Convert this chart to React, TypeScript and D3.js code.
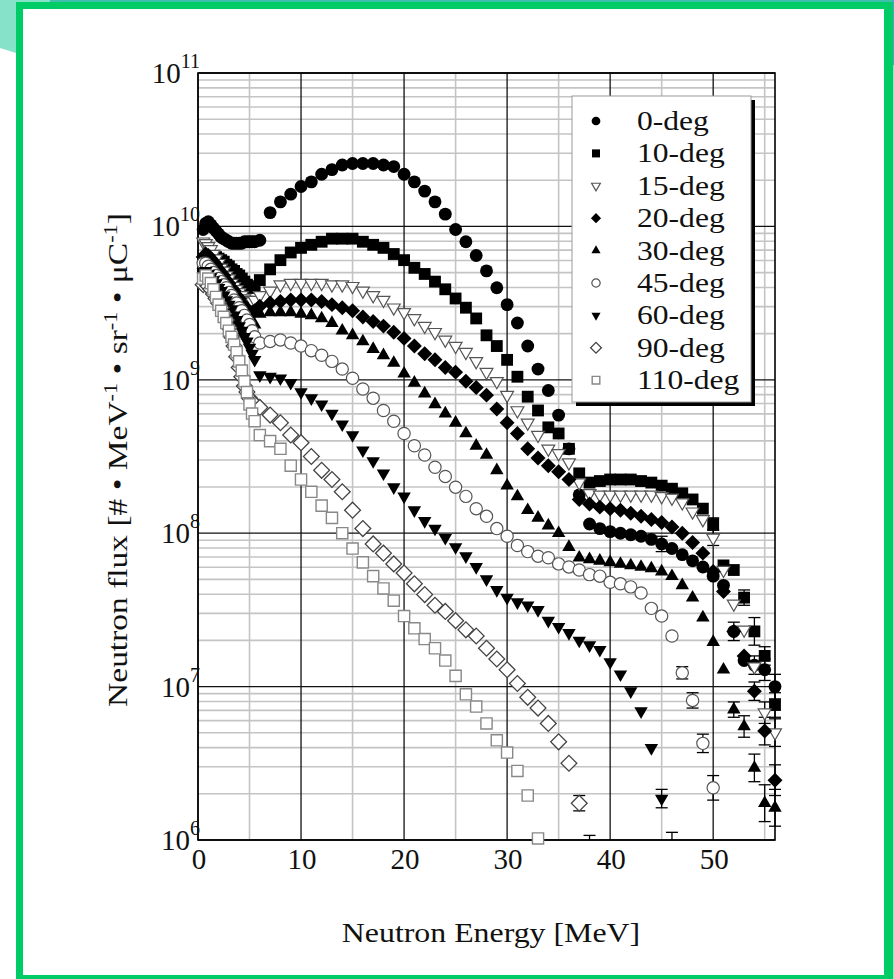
import React from 'react';
import * as d3 from 'd3';

// Energy bins [MeV] shared by every angle
const energyBins = [
  0.5, 0.75, 1, 1.25, 1.5, 1.75, 2, 2.25, 2.5, 2.75, 3, 3.25, 3.5, 3.75, 4, 4.25, 4.5, 4.75, 5, 5.25, 5.5,
  6, 7, 8, 9, 10, 11, 12, 13, 14, 15, 16, 17, 18, 19, 20, 21, 22, 23, 24, 25,
  26, 27, 28, 29, 30, 31, 32, 33, 34, 35, 36, 37, 38, 39, 40, 41, 42, 43, 44, 45,
  46, 47, 48, 49, 50, 51, 52, 53, 54, 55, 56,
];

const seriesLabels = ['0-deg', '10-deg', '15-deg', '20-deg', '30-deg', '45-deg', '60-deg', '90-deg', '110-deg'];

// log10 of neutron flux [# / MeV / sr / uC], one entry per energy bin
const logFlux0 = [
  9.98, 10.02, 10.03, 10.01, 9.99, 9.97, 9.95, 9.93, 9.92, 9.91, 9.9, 9.89, 9.89, 9.89, 9.89, 9.89, 9.9, 9.9, 9.9, 9.9, 9.9,
  9.91, 10.09, 10.16, 10.21, 10.26, 10.29, 10.34, 10.37, 10.4, 10.41,
  10.41, 10.41, 10.4, 10.39, 10.34, 10.29, 10.23, 10.16, 10.08, 9.98,
  9.9, 9.81, 9.71, 9.6, 9.49, 9.37, 9.22, 9.07, 8.93, 8.77,
  8.55, 8.25, 8.06, 8.03, 8.01, 8.0, 7.99, 7.98, 7.96, 7.93,
  7.9, 7.86, 7.82, 7.78, 7.72, 7.66, 7.36, 7.17, 7.14, 7.11, 7.0,
];
const logFlux10 = [
  9.7, 9.74, 9.77, 9.79, 9.8, 9.8, 9.79, 9.78, 9.77, 9.75, 9.74, 9.72, 9.71, 9.69, 9.68, 9.66, 9.64, 9.62, 9.6, 9.6, 9.61,
  9.65, 9.72, 9.78, 9.83, 9.86, 9.88, 9.9, 9.92, 9.92, 9.92,
  9.9, 9.88, 9.86, 9.82, 9.78, 9.73, 9.69, 9.64, 9.59, 9.53,
  9.47, 9.4, 9.29, 9.22, 9.13, 9.02, 8.89, 8.8, 8.69, 8.65,
  8.55, 8.39, 8.33, 8.34, 8.35, 8.35, 8.35, 8.34, 8.33, 8.31,
  8.29, 8.26, 8.22, 8.16, 8.06, 7.79, 7.76, 7.58, 7.36, 7.2, 6.88,
];
const logFlux15 = [
  9.9, 9.89, 9.87, 9.85, 9.82, 9.79, 9.76, 9.73, 9.71, 9.68, 9.66, 9.63, 9.61, 9.59, 9.57, 9.55, 9.53, 9.52, 9.51, 9.51, 9.52,
  9.55, 9.58, 9.62, 9.63, 9.63, 9.63, 9.63, 9.62, 9.62, 9.61,
  9.58, 9.55, 9.52, 9.47, 9.44, 9.4, 9.35, 9.31, 9.26, 9.22,
  9.18, 9.12, 9.05, 8.99, 8.9, 8.8, 8.72, 8.64, 8.55, 8.52,
  8.46, 8.33, 8.26, 8.25, 8.25, 8.25, 8.25, 8.25, 8.25, 8.24,
  8.23, 8.2, 8.14, 8.09, 7.97, 7.76, 7.54, 7.37, 7.13, 6.83, 6.7,
];
const logFlux20 = [
  9.8, 9.82, 9.81, 9.79, 9.77, 9.75, 9.72, 9.7, 9.68, 9.65, 9.63, 9.6, 9.58, 9.55, 9.53, 9.5, 9.48, 9.46, 9.44, 9.44, 9.45,
  9.48, 9.5, 9.51, 9.52, 9.52, 9.52, 9.51, 9.49, 9.47, 9.45,
  9.41, 9.38, 9.35, 9.31, 9.27, 9.22, 9.17, 9.13, 9.08, 9.05,
  8.99, 8.95, 8.9, 8.81, 8.72, 8.65, 8.55, 8.49, 8.44, 8.4,
  8.35, 8.22, 8.19, 8.17, 8.16, 8.15, 8.13, 8.11, 8.09, 8.07,
  8.04, 8.0, 7.94, 7.87, 7.75, 7.62, 7.36, 7.2, 6.97, 6.71, 6.39,
];
const logFlux30 = [
  9.72, 9.74, 9.73, 9.71, 9.69, 9.66, 9.63, 9.6, 9.58, 9.55, 9.52, 9.49, 9.46, 9.43, 9.4, 9.37, 9.34, 9.32, 9.3, 9.32, 9.36,
  9.43, 9.44, 9.44, 9.44, 9.43, 9.42, 9.4, 9.37, 9.32, 9.29,
  9.25, 9.2, 9.16, 9.11, 9.04, 8.98, 8.91, 8.84, 8.78, 8.72,
  8.65, 8.57, 8.51, 8.41, 8.31, 8.24, 8.15, 8.1, 8.05, 8.0,
  7.91, 7.84, 7.83, 7.82, 7.81, 7.8, 7.79, 7.78, 7.77, 7.75,
  7.72, 7.66, 7.58, 7.45, 7.29, 7.11, 6.85, 6.74, 6.47, 6.24, 6.21,
];
const logFlux45 = [
  9.76, 9.76, 9.74, 9.72, 9.7, 9.68, 9.66, 9.64, 9.62, 9.6, 9.57, 9.55, 9.52, 9.5, 9.47, 9.45, 9.42, 9.39, 9.36, 9.32, 9.28,
  9.24, 9.25, 9.26, 9.24, 9.22, 9.19, 9.16, 9.12, 9.07, 9.01,
  8.94, 8.88, 8.8, 8.73, 8.65, 8.57, 8.51, 8.43, 8.37, 8.3,
  8.24, 8.16, 8.11, 8.03, 7.98, 7.92, 7.88, 7.85, 7.84, 7.8,
  7.78, 7.76, 7.73, 7.72, 7.68, 7.67, 7.65, 7.61, 7.51, 7.46,
  7.33, 7.09, 6.91, 6.63, 6.34,
];
const logFlux60 = [
  9.7, 9.71, 9.69, 9.67, 9.65, 9.63, 9.6, 9.58, 9.55, 9.52, 9.49, 9.46, 9.42, 9.39, 9.35, 9.32, 9.28, 9.25, 9.21, 9.17, 9.13,
  9.03, 9.02, 9.01, 8.98, 8.92, 8.88, 8.84, 8.78, 8.71, 8.64,
  8.54, 8.47, 8.39, 8.3, 8.24, 8.15, 8.08, 8.03, 7.97, 7.91,
  7.85, 7.78, 7.7, 7.63, 7.58, 7.55, 7.53, 7.5, 7.43, 7.39,
  7.35, 7.3, 7.27, 7.24, 7.16, 7.08, 6.97, 6.84, 6.6, 6.27,
  5.85,
];
const logFlux90 = [
  9.62, 9.63, 9.61, 9.59, 9.56, 9.53, 9.5, 9.47, 9.43, 9.39, 9.34, 9.28, 9.22, 9.15, 9.08, 9.02, 8.96, 8.92, 8.88, 8.86, 8.84,
  8.82, 8.77, 8.72, 8.64, 8.59, 8.5, 8.41, 8.35, 8.27, 8.15,
  8.03, 7.93, 7.87, 7.8, 7.74, 7.67, 7.6, 7.53, 7.49, 7.43,
  7.37, 7.33, 7.25, 7.18, 7.11, 7.02, 6.93, 6.86, 6.76, 6.64,
  6.5, 6.24, 5.85,
];
const logFlux110 = [
  9.66, 9.68, 9.66, 9.63, 9.59, 9.54, 9.49, 9.45, 9.41, 9.37, 9.32, 9.28, 9.23, 9.18, 9.12, 9.06, 8.99, 8.92, 8.84, 8.78, 8.73,
  8.64, 8.6, 8.55, 8.44, 8.35, 8.27, 8.18, 8.1, 8.0, 7.9,
  7.81, 7.72, 7.64, 7.56, 7.46, 7.38, 7.31, 7.25, 7.17, 7.07,
  6.95, 6.87, 6.76, 6.65, 6.57, 6.45, 6.29, 6.01,
];

const seriesValues = [logFlux0, logFlux10, logFlux15, logFlux20, logFlux30, logFlux45, logFlux60, logFlux90, logFlux110];

// Statistical error bars: [series index, energy bin, half-width in decades]
const errorBars: [number, number, number][] = [
  [0, 45, 0.05], [0, 52, 0.06], [0, 54, 0.06], [0, 55, 0.07], [0, 56, 0.08],
  [1, 50, 0.04], [1, 53, 0.05], [1, 54, 0.09], [1, 55, 0.06], [1, 56, 0.08],
  [2, 50, 0.05], [2, 55, 0.07], [2, 56, 0.09],
  [3, 54, 0.06], [3, 55, 0.09], [3, 56, 0.1],
  [4, 52, 0.05], [4, 53, 0.07], [4, 54, 0.09], [4, 55, 0.12], [4, 56, 0.12],
  [5, 47, 0.04], [5, 48, 0.05], [5, 49, 0.06], [5, 50, 0.08],
  [6, 45, 0.06], [6, 46, 0.2],
  [7, 37, 0.05], [7, 38, 0.18],
];

const xTicks = [0, 10, 20, 30, 40, 50];
const xMinorGrid = [5, 15, 25, 35, 45, 55];
const yDecades = [6, 7, 8, 9, 10, 11];
const yMinorMantissas = [2, 3, 4, 5, 6, 7, 8, 9];

type Shape = 'circle' | 'square' | 'triUp' | 'triDown' | 'diamond';
interface MarkerStyle { shape: Shape; fill: string; stroke: string; area: number; sw: number; }

const seriesStyles: MarkerStyle[] = [
  { shape: 'circle', fill: '#000', stroke: 'none', area: 130, sw: 0 },
  { shape: 'square', fill: '#000', stroke: 'none', area: 140, sw: 0 },
  { shape: 'triDown', fill: '#fff', stroke: '#555', area: 72, sw: 1.2 },
  { shape: 'diamond', fill: '#000', stroke: 'none', area: 112, sw: 0 },
  { shape: 'triUp', fill: '#000', stroke: 'none', area: 78, sw: 0 },
  { shape: 'circle', fill: '#fff', stroke: '#555', area: 118, sw: 1.2 },
  { shape: 'triDown', fill: '#000', stroke: 'none', area: 78, sw: 0 },
  { shape: 'diamond', fill: '#fff', stroke: '#444', area: 125, sw: 1.3 },
  { shape: 'square', fill: '#fff', stroke: '#888', area: 125, sw: 1.4 },
];

const symbolType = (s: Shape) =>
  s === 'circle' ? d3.symbolCircle : s === 'triUp' || s === 'triDown' ? d3.symbolTriangle : d3.symbolSquare;
const symbolRotation = (s: Shape) => (s === 'triDown' ? 180 : s === 'diamond' ? 45 : 0);

const W = 894;
const H = 979;
const M = { left: 198, right: 775, top: 73, bottom: 840 };

const x = d3.scaleLinear().domain([0, 56]).range([M.left, M.right]);
const y = d3.scaleLog().domain([1e6, 1e11]).range([M.bottom, M.top]);

const SERIF = '"Liberation Serif", "Times New Roman", Times, serif';

function Marker({ st, cx, cy, scale = 1 }: { st: MarkerStyle; cx: number; cy: number; scale?: number }) {
  const d = d3.symbol().type(symbolType(st.shape)).size(st.area * scale * scale)() as string;
  return (
    <path
      d={d}
      transform={`translate(${cx},${cy}) rotate(${symbolRotation(st.shape)})`}
      fill={st.fill}
      stroke={st.stroke}
      strokeWidth={st.sw}
    />
  );
}

export default function App() {
  const minorY: number[] = [];
  yDecades.slice(0, -1).forEach((e) => yMinorMantissas.forEach((m) => minorY.push(m * Math.pow(10, e))));

  const legendRowY = (i: number) => 121 + i * 32.4;

  return (
    <svg width={W} height={H} style={{ position: 'absolute', left: 0, top: 0, background: '#fff' }} fontFamily={SERIF}>
      <defs>
        <clipPath id="dataClip">
          <rect x={M.left - 10} y={M.top - 10} width={M.right - M.left + 30} height={M.bottom - M.top + 18} />
        </clipPath>
        <clipPath id="errClip">
          <rect x={M.left - 10} y={M.top - 10} width={M.right - M.left + 30} height={M.bottom - M.top + 10} />
        </clipPath>
      </defs>

      {/* page frame */}
      <rect x={0} y={0} width={W} height={H} fill="#fff" />
      <polygon points="0,0 16,0 16,53 0,48" fill="#86e3c9" />
      <rect x={0} y={0} width={50} height={2} fill="#86e3c9" />
      <rect x={50} y={0} width={W - 50} height={2} fill="#3fbfae" />
      <rect x={892} y={0} width={2} height={65} fill="#4aa6c8" />
      <rect x={892} y={65} width={2} height={H - 65} fill="#8ee8c2" />
      <rect x={16} y={2} width={7} height={H - 2} fill="#00cc66" />
      <rect x={16} y={2} width={877} height={7} fill="#00cc66" />
      <rect x={884} y={2} width={9} height={H - 2} fill="#00cc66" />
      <rect x={16} y={975} width={877} height={4} fill="#00cc66" />

      {/* grid */}
      <g>
        {minorY.map((v) => (
          <line key={`hy${v}`} x1={M.left} x2={M.right} y1={y(v)} y2={y(v)} stroke="#c4c4c4" strokeWidth={1.6} />
        ))}
        {xMinorGrid.map((v) => (
          <line key={`vx${v}`} x1={x(v)} x2={x(v)} y1={M.top} y2={M.bottom} stroke="#c4c4c4" strokeWidth={1.6} />
        ))}
        {yDecades.map((e) => (
          <line key={`Hy${e}`} x1={M.left} x2={M.right} y1={y(Math.pow(10, e))} y2={y(Math.pow(10, e))} stroke="#111" strokeWidth={1.3} />
        ))}
        {xTicks.map((v) => (
          <line key={`Vx${v}`} x1={x(v)} x2={x(v)} y1={M.top} y2={M.bottom} stroke="#111" strokeWidth={1.3} />
        ))}
        <rect x={M.left} y={M.top} width={M.right - M.left} height={M.bottom - M.top} fill="none" stroke="#000" strokeWidth={1.6} />
      </g>

      {/* error bars */}
      <g clipPath="url(#errClip)" stroke="#000" strokeWidth={1.3}>
        {errorBars.map(([si, e, d], k) => {
          const idx = energyBins.indexOf(e);
          const v = seriesValues[si][idx];
          const cx = x(e);
          const y1 = y(Math.pow(10, v - d));
          const y2 = y(Math.pow(10, v + d));
          return (
            <g key={`eb${k}`}>
              <line x1={cx} x2={cx} y1={y1} y2={y2} />
              <line x1={cx - 6} x2={cx + 6} y1={y1} y2={y1} />
              <line x1={cx - 6} x2={cx + 6} y1={y2} y2={y2} />
            </g>
          );
        })}
      </g>

      {/* data points */}
      <g clipPath="url(#dataClip)">
        {seriesValues.map((vals, si) => (
          <g key={seriesLabels[si]}>
            {vals.map((v, i) =>
              v < 6 ? null : (
                <Marker key={i} st={seriesStyles[si]} cx={x(energyBins[i])} cy={y(Math.pow(10, v))} />
              )
            )}
          </g>
        ))}
      </g>

      {/* legend */}
      <g>
        <rect x={576} y={100} width={179} height={306} fill="#000" />
        <rect x={572} y={96} width={179} height={306} fill="#fff" stroke="#999" strokeWidth={1} />
        {seriesLabels.map((lab, i) => (
          <g key={`lg${lab}`}>
            <Marker st={seriesStyles[i]} cx={596} cy={legendRowY(i)} scale={0.68} />
            <text transform={`translate(637,${legendRowY(i) + 9}) scale(1.17,1)`} fontSize={27} fill="#111">
              {lab}
            </text>
          </g>
        ))}
      </g>

      {/* y tick labels */}
      {yDecades.map((e) => (
        <text key={`yt${e}`} x={200} y={y(Math.pow(10, e)) + 10} textAnchor="end" fontSize={29} fill="#111">
          10
          <tspan dy={-15} fontSize={20}>
            {e}
          </tspan>
        </text>
      ))}

      {/* x tick labels */}
      {xTicks.map((v) => (
        <text key={`xt${v}`} x={x(v) + 1} y={869} textAnchor="middle" fontSize={29} fill="#111">
          {v}
        </text>
      ))}

      {/* axis titles */}
      <text transform="translate(491,942) scale(1.18,1)" textAnchor="middle" fontSize={27} fill="#111">
        Neutron Energy [MeV]
      </text>
      <text transform="translate(127,460) rotate(-90) scale(1.24,1)" textAnchor="middle" fontSize={27} fill="#111">
        Neutron flux [# • MeV
        <tspan dy={-10} fontSize={18}>-1</tspan>
        <tspan dy={10}> • sr</tspan>
        <tspan dy={-10} fontSize={18}>-1</tspan>
        <tspan dy={10}> • μC</tspan>
        <tspan dy={-10} fontSize={18}>-1</tspan>
        <tspan dy={10}>]</tspan>
      </text>
    </svg>
  );
}
